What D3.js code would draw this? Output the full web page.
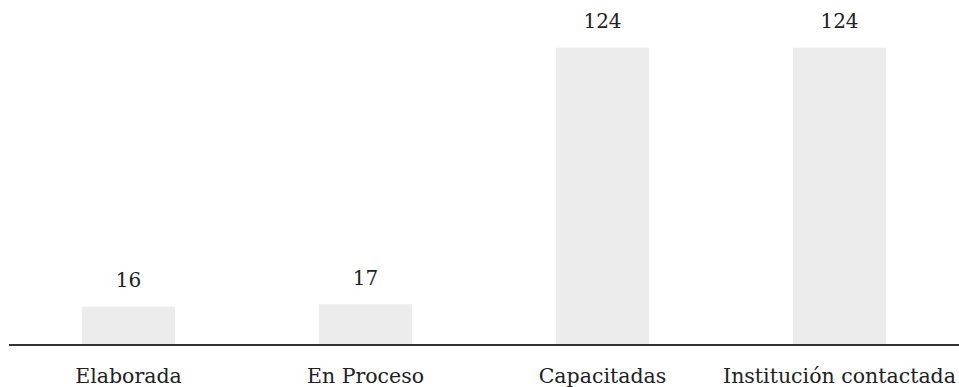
<!DOCTYPE html>
<html>
<head>
<meta charset="utf-8">
<script src="https://cdn.jsdelivr.net/npm/d3@7"></script>
<style>
  html, body { margin: 0; padding: 0; background: #fff; }
  svg text { font-family: "Century Schoolbook", "DejaVu Serif", serif; fill: #222; }
</style>
</head>
<body>
<svg id="chart" width="959" height="387"></svg>
<script>
const categories = ["Elaborada", "En Proceso", "Capacitadas", "Institución contactada"];
const values = [16, 17, 124, 124];

const svg = d3.select("#chart");
const baseline = 345;

const x = d3.scaleBand()
  .domain(categories)
  .range([10, 958])
  .paddingInner(0.607)
  .paddingOuter(0.3035);

const y = d3.scaleLinear()
  .domain([0, 124])
  .range([baseline, 47.7]);

const data = categories.map((c, i) => ({ cat: c, val: values[i] }));

svg.selectAll("rect.bar")
  .data(data)
  .join("rect")
  .attr("class", "bar")
  .attr("x", d => x(d.cat))
  .attr("width", x.bandwidth())
  .attr("y", d => y(d.val))
  .attr("height", d => y(0) - y(d.val))
  .attr("fill", "#ececec");

svg.selectAll("text.val")
  .data(data)
  .join("text")
  .attr("class", "val")
  .attr("x", d => x(d.cat) + x.bandwidth() / 2)
  .attr("y", d => y(d.val) - 19.5)
  .attr("text-anchor", "middle")
  .attr("font-size", 20)
  .text(d => d.val);

// Baseline axis with category labels
const axis = d3.axisBottom(x).tickSize(0);
const g = svg.append("g").attr("transform", `translate(0,${baseline})`).call(axis);
g.select(".domain").attr("stroke", "#333").attr("stroke-width", 2).attr("d", "M9,0H959");
g.selectAll(".tick text")
  .attr("y", 38).attr("dy", 0)
  .attr("font-size", 20.5).attr("fill", "#222")
  .style("font-family", "\"Century Schoolbook\", \"DejaVu Serif\", serif");
</script>
</body>
</html>
